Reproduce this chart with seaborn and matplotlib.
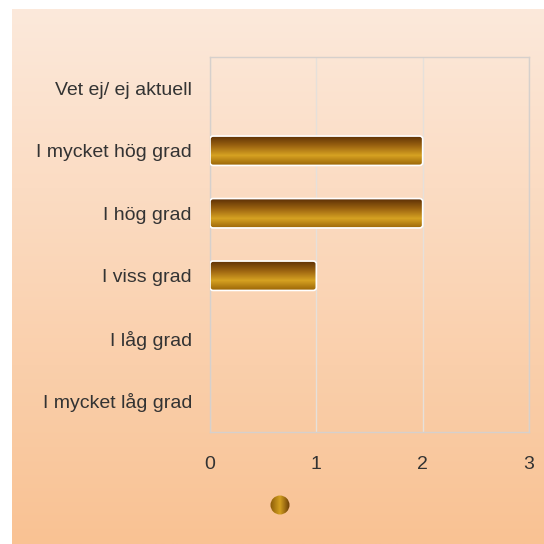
import numpy as np
import pandas as pd
import matplotlib.pyplot as plt
import seaborn as sns
from matplotlib.colors import LinearSegmentedColormap
from matplotlib.patches import Circle, FancyBboxPatch

sns.set_style("white")
plt.rcParams['font.family'] = ['Liberation Sans', 'DejaVu Sans']

categories = ["Vet ej/ ej aktuell", "I mycket hög grad", "I hög grad",
              "I viss grad", "I låg grad", "I mycket låg grad"]
counts = [0, 2, 2, 1, 0, 0]
xticks = [0, 1, 2, 3]

df = pd.DataFrame({"svar": categories, "antal": counts})

fig = plt.figure(figsize=(5.44, 5.44), dpi=100, facecolor="white")

# background panel with vertical gradient
bg = fig.add_axes([0, 0, 1, 1], zorder=0)
bg.axis("off")
bg_cmap = LinearSegmentedColormap.from_list("bg", ["#fce9db", "#f9c293"])
grad = np.linspace(0, 1, 256).reshape(-1, 1)
bg.imshow(grad, cmap=bg_cmap, extent=(12, 544, 544, 9), aspect="auto")

# legend marker (gradient dot)
dot_cmap = LinearSegmentedColormap.from_list("dot", ["#8a5a08", "#d4a020", "#6a3c06"])
dot = Circle((280, 505), 9.5, transform=bg.transData)
im = bg.imshow(np.linspace(0, 1, 64).reshape(1, -1), cmap=dot_cmap,
               extent=(270, 290, 515, 495), aspect="auto")
im.set_clip_path(dot)
bg.set_xlim(0, 544)
bg.set_ylim(544, 0)

ax = fig.add_axes([210 / 544, 1 - 432 / 544, 319 / 544, 375 / 544], zorder=1)
ax.patch.set_alpha(0)
sns.barplot(data=df, x="antal", y="svar", ax=ax, width=0.47, color="#b07a10")

bar_cmap = LinearSegmentedColormap.from_list(
    "bar", [(0, "#582c05"), (0.35, "#9a6210"), (0.68, "#d6a222"), (1, "#9c6608")])
bar_grad = np.linspace(0, 1, 256).reshape(-1, 1)
for p in list(ax.patches):
    w = p.get_width()
    p.set_visible(False)
    if w <= 0:
        continue
    x0, y0, h = p.get_x(), p.get_y(), p.get_height()
    box = FancyBboxPatch((x0, y0), w, h, boxstyle="round,pad=0,rounding_size=0.03",
                         mutation_aspect=1.5,
                         facecolor="none", edgecolor="white", linewidth=1.2, zorder=4)
    ax.add_patch(box)
    img = ax.imshow(bar_grad, cmap=bar_cmap, extent=(x0, x0 + w, y0 + h, y0),
                    aspect="auto", zorder=3)
    img.set_clip_path(box)

ax.set_xlim(0, 3)
ax.set_ylim(5.5, -0.5)
ax.set_xticks(xticks)
ax.set_xlabel("")
ax.set_ylabel("")
ax.grid(axis="x", color="#e6e0da", linewidth=1)
ax.set_axisbelow(True)
for s in ax.spines.values():
    s.set_color("#d6d0cc")
    s.set_linewidth(1)
ax.tick_params(axis="y", length=0, pad=13, labelsize=14, labelcolor="#333333")
ax.tick_params(axis="x", length=0, pad=17, labelsize=14, labelcolor="#333333")

fig.savefig("out.png", dpi=100)
